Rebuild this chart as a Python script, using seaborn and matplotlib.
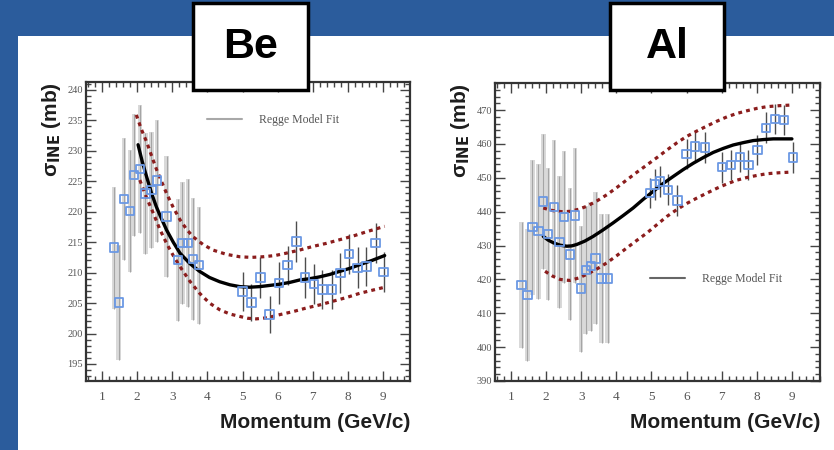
import matplotlib
matplotlib.use("Agg")
import matplotlib.pyplot as plt
import seaborn as sns
import numpy as np
from matplotlib.patches import Rectangle
from matplotlib.lines import Line2D
from matplotlib.ticker import MultipleLocator

# ---------------- Beryllium ----------------
be_p = [1.34, 1.48, 1.63, 1.80, 1.92, 2.08, 2.24, 2.41, 2.57, 2.84,
        3.17, 3.29, 3.45, 3.59, 3.76,
        5.00, 5.25, 5.51, 5.77, 6.04, 6.28, 6.53, 6.78, 7.03, 7.27,
        7.55, 7.78, 8.03, 8.27, 8.52, 8.78, 9.01]
be_sigma = [214.1, 205.1, 222.1, 220.1, 226.0, 227.0, 223.0, 223.6, 225.1, 219.2,
            212.1, 214.9, 214.9, 212.2, 211.2,
            206.9, 205.1, 209.2, 203.1, 208.3, 211.2, 215.1, 209.2, 208.1, 207.2,
            207.2, 209.9, 213.1, 210.8, 211.0, 214.9, 210.1]
be_err = [10.0, 9.5, 10.0, 10.0, 10.0, 10.5, 10.0, 9.5, 10.0, 10.0,
          10.0, 10.0, 10.5, 10.0, 9.6,
          3.2, 3.0, 3.3, 3.0, 3.4, 3.2, 3.3, 3.3, 3.3, 3.2,
          3.2, 3.3, 3.3, 3.4, 3.2, 3.3, 3.3]

be_fit_p = [2.03, 2.15, 2.27, 2.41, 2.55, 2.70, 2.84, 3.03, 3.22, 3.50, 3.78,
            4.06, 4.35, 4.64, 4.92, 5.20, 5.49, 5.78, 6.06, 6.35, 6.63,
            6.91, 7.19, 7.48, 7.76, 8.05, 8.33, 8.68, 9.04]
be_fit = [231.0, 228.2, 225.8, 223.1, 220.8, 218.8, 217.0, 215.0, 213.2, 211.5, 210.2,
          209.2, 208.5, 208.0, 207.7, 207.6, 207.7, 207.9, 208.1, 208.4, 208.8,
          209.0, 209.3, 209.7, 210.2, 210.7, 211.3, 212.0, 212.8]
be_hi_p = [1.98, 2.12, 2.27, 2.55, 2.84, 3.03, 3.22, 3.41, 3.59, 3.88, 4.16,
           4.54, 4.92, 5.25, 5.58, 5.92, 6.25, 6.62, 7.00, 7.38, 7.76, 8.14, 8.52, 9.04]
be_hi = [235.9, 233.6, 231.5, 227.0, 223.0, 220.7, 218.7, 217.1, 215.9, 214.6, 213.7,
         213.0, 212.6, 212.5, 212.6, 212.8, 213.2, 213.7, 214.3, 214.8, 215.4, 216.0, 216.7, 217.6]
be_lo_p = [2.08, 2.27, 2.46, 2.65, 2.84, 3.03, 3.22, 3.50, 3.78, 4.06, 4.35,
           4.64, 4.92, 5.15, 5.39, 5.72, 6.06, 6.44, 6.82, 7.20, 7.57, 7.95, 8.33, 9.04]
be_lo = [225.2, 222.3, 219.8, 217.1, 214.8, 212.8, 211.0, 208.6, 206.6, 205.0, 203.9,
         203.2, 202.8, 202.5, 202.4, 202.6, 203.1, 203.6, 204.2, 204.7, 205.3, 205.9, 206.6, 207.6]

# ---------------- Aluminium ----------------
al_p = [1.30, 1.47, 1.61, 1.78, 1.92, 2.06, 2.23, 2.38, 2.51, 2.68, 2.82,
        2.99, 3.13, 3.27, 3.41, 3.58, 3.75,
        4.96, 5.10, 5.25, 5.48, 5.74, 6.00, 6.24, 6.53, 7.00, 7.26,
        7.52, 7.76, 8.02, 8.27, 8.52, 8.78, 9.04]
al_sigma = [418.3, 415.4, 435.4, 434.2, 443.0, 433.4, 441.3, 431.1, 438.4, 427.4, 438.9,
            417.3, 422.8, 423.9, 426.2, 420.3, 420.3,
            445.5, 448.0, 448.9, 446.5, 443.3, 457.1, 459.2, 459.0, 453.1, 453.8,
            456.1, 453.8, 458.2, 464.8, 467.3, 467.1, 456.0]
al_err = [18.6, 19.5, 20.0, 20.0, 20.0, 19.6, 20.0, 19.5, 19.5, 19.5, 20.0,
          18.6, 19.0, 19.0, 19.5, 19.0, 19.0,
          4.5, 4.5, 4.5, 4.5, 4.5, 4.5, 4.5, 4.5, 4.5, 4.5,
          4.5, 4.5, 4.5, 4.5, 4.5, 4.5, 4.5]

al_fit_p = [1.92, 2.06, 2.21, 2.40, 2.59, 2.73, 2.87, 3.10, 3.34, 3.62, 3.91,
            4.20, 4.48, 4.76, 5.05, 5.33, 5.62, 5.90, 6.19, 6.48, 6.76,
            7.05, 7.33, 7.62, 7.90, 8.19, 8.47, 8.74, 9.00]
al_fit = [432.7, 431.6, 430.8, 430.1, 429.8, 429.9, 430.3, 431.3, 432.7, 434.6, 436.7,
          438.9, 441.1, 443.6, 446.0, 448.3, 450.4, 452.4, 454.3, 456.0, 457.5,
          458.7, 459.7, 460.4, 461.0, 461.3, 461.5, 461.5, 461.5]
al_hi_p = [1.92, 2.11, 2.30, 2.49, 2.68, 2.92, 3.16, 3.45, 3.73, 4.01, 4.30,
           4.58, 4.87, 5.16, 5.44, 5.72, 6.00, 6.29, 6.58, 6.86, 7.15, 7.43,
           7.72, 8.00, 8.28, 8.64, 9.00]
al_hi = [441.1, 440.5, 440.1, 440.0, 440.1, 440.7, 441.6, 443.2, 445.0, 447.1, 449.4,
         451.6, 453.8, 456.0, 458.2, 460.3, 462.2, 463.8, 465.3, 466.7, 468.0, 469.0,
         469.8, 470.5, 471.0, 471.3, 471.5]
al_lo_p = [1.97, 2.18, 2.40, 2.54, 2.68, 2.92, 3.16, 3.45, 3.73, 4.01, 4.30,
           4.58, 4.87, 5.16, 5.44, 5.72, 6.00, 6.29, 6.58, 6.86, 7.15, 7.43,
           7.72, 8.00, 8.28, 8.64, 9.00]
al_lo = [422.4, 421.0, 420.0, 419.8, 419.7, 420.4, 421.5, 423.1, 424.9, 427.0, 429.3,
         431.5, 433.7, 436.2, 438.6, 440.6, 442.4, 444.0, 445.5, 446.9, 448.2, 449.3,
         450.1, 450.7, 451.2, 451.5, 451.7]

sns.set_theme(style="ticks")
plt.rcParams["font.family"] = ["Liberation Sans", "DejaVu Sans"]

BAND_RED = "#8b1d1d"
MARKER_BLUE = "#6b98e4"
SERIF = "Liberation Serif"

fig = plt.figure(figsize=(8.34, 4.5), dpi=100, facecolor="#2b5c9c")
fig.add_artist(Rectangle((18 / 834, 0), 1, (450 - 36) / 450, transform=fig.transFigure,
                         facecolor="white", edgecolor="none", zorder=-5))

ax_be = fig.add_axes([86 / 834, 69 / 450, 324 / 834, 299 / 450])
ax_al = fig.add_axes([495 / 834, 69 / 450, 325 / 834, 298 / 450])


def draw_panel(ax, p, s, e, fp, fv, hp, hv, lp, lv, legend_color, legend_anchor):
    p = np.asarray(p); s = np.asarray(s); e = np.asarray(e)
    low = p < 4.5
    # wide low-momentum uncertainties as grey stripes
    ax.bar(p[low], 2 * e[low], bottom=s[low] - e[low], width=0.13,
           color="#d9d9d9", edgecolor="none", zorder=1)
    ax.vlines(p[low], s[low] - e[low], s[low] + e[low], color="#a5a5a5", lw=0.8, zorder=1.5)
    ax.vlines(p[~low], s[~low] - e[~low], s[~low] + e[~low], color="#4d4d4d", lw=1.0, zorder=1.5)

    for bp, bv in ((hp, hv), (lp, lv)):
        sns.lineplot(x=bp, y=bv, ax=ax, color=BAND_RED, lw=2.3, sort=False,
                     linestyle=(0, (1.2, 1.3)), zorder=3)
    sns.lineplot(x=fp, y=fv, ax=ax, color="black", lw=2.4, sort=False, zorder=4)
    sns.scatterplot(x=p, y=s, ax=ax, marker="s", s=36, facecolor="none",
                    edgecolor=MARKER_BLUE, linewidth=1.3, zorder=5)

    handle = Line2D([], [], color=legend_color, lw=1.5)
    ax.legend([handle], ["Regge Model Fit"], loc="center left", bbox_to_anchor=legend_anchor,
              frameon=False, borderpad=0, borderaxespad=0, handlelength=3.0,
              handletextpad=1.4, labelcolor="#555555",
              prop={"family": SERIF, "size": 8.5})

    ax.set_xlim(0.55, 9.76)
    ax.xaxis.set_major_locator(MultipleLocator(1))
    ax.xaxis.set_minor_locator(MultipleLocator(0.2))
    ax.tick_params(which="both", direction="in", top=True, right=True,
                   color="#444444", width=1.0)
    ax.tick_params(which="major", length=7)
    ax.tick_params(which="minor", length=3.5)
    ax.tick_params(axis="x", labelsize=9.5, labelcolor="#555555", pad=7.5)
    ax.tick_params(axis="y", labelsize=7.5, labelcolor="#555555", pad=2)
    for sp in ax.spines.values():
        sp.set_color("#333333")
        sp.set_linewidth(1.6)
    ax.set_xlabel("Momentum (GeV/c)", loc="right", fontsize=15, fontweight="bold",
                  color="#1e1e1e", labelpad=7)
    ax.set_ylabel(r"σ$_{\mathbf{INE}}$ (mb)", loc="top", fontsize=15, fontweight="bold",
                  color="#1e1e1e", labelpad=3)


draw_panel(ax_be, be_p, be_sigma, be_err, be_fit_p, be_fit, be_hi_p, be_hi,
           be_lo_p, be_lo, "#a8a8a8", (0.373, 0.873))
ax_be.set_ylim(192.2, 241.3)
ax_be.yaxis.set_major_locator(MultipleLocator(5))
ax_be.yaxis.set_minor_locator(MultipleLocator(1))

draw_panel(ax_al, al_p, al_sigma, al_err, al_fit_p, al_fit, al_hi_p, al_hi,
           al_lo_p, al_lo, "#666666", (0.477, 0.342))
ax_al.set_ylim(390, 478)
ax_al.yaxis.set_major_locator(MultipleLocator(10))
ax_al.yaxis.set_minor_locator(MultipleLocator(2))
ax_al.set_xlim(0.545, 9.8)

for ax in (ax_be, ax_al):
    for lab in ax.get_xticklabels() + ax.get_yticklabels():
        lab.set_family(SERIF)

# element labels in framed boxes
for x0, w, name in ((193, 115, "Be"), (610, 114, "Al")):
    fig.add_artist(Rectangle((x0 / 834, 1 - 90 / 450), w / 834, 87 / 450,
                             transform=fig.transFigure, facecolor="white",
                             edgecolor="black", lw=2.5, zorder=10))
    fig.text((x0 + w / 2) / 834, 1 - 47 / 450, name, ha="center", va="center",
             fontsize=31, fontweight="bold", color="black", zorder=11)

fig.savefig("out.png", dpi=100, facecolor=fig.get_facecolor())
